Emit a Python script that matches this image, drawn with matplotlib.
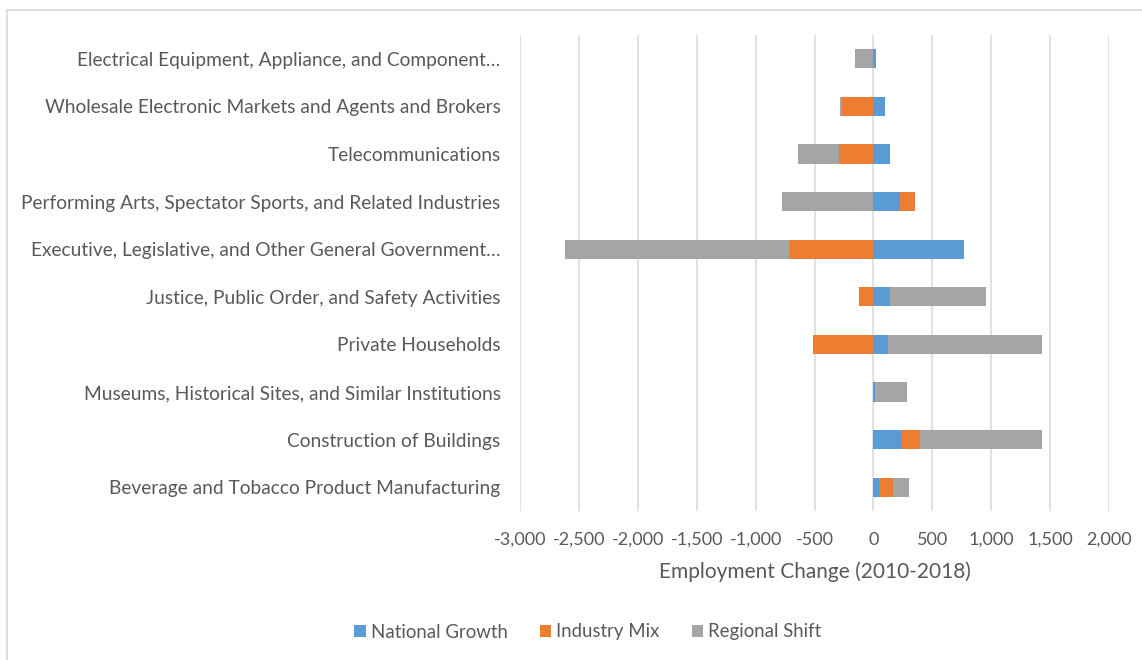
import matplotlib
matplotlib.use("Agg")
import matplotlib.pyplot as plt
from matplotlib.patches import Patch
from matplotlib.lines import Line2D
from matplotlib.ticker import FuncFormatter, MultipleLocator
import numpy as np

categories = [
    "Electrical Equipment, Appliance, and Component\u2026",
    "Wholesale Electronic Markets and Agents and Brokers",
    "Telecommunications",
    "Performing Arts, Spectator Sports, and Related Industries",
    "Executive, Legislative, and Other General Government\u2026",
    "Justice, Public Order, and Safety Activities",
    "Private Households",
    "Museums, Historical Sites, and Similar Institutions",
    "Construction of Buildings",
    "Beverage and Tobacco Product Manufacturing",
]
national_growth = [20, 100, 145, 230, 765, 145, 120, 15, 240, 45]
industry_mix = [0, -270, -295, 120, -720, -125, -515, 0, 155, 120]
regional_shift = [-155, -15, -345, -780, -1900, 815, 1310, 270, 1040, 140]
series_names = ["National Growth", "Industry Mix", "Regional Shift"]
colors = ["#5B9BD5", "#ED7D31", "#A5A5A5"]

TXT = "#595959"
plt.rcParams["font.family"] = ["Lato", "DejaVu Sans"]

W, H = 1142, 660
fig = plt.figure(figsize=(W / 100, H / 100), dpi=100)
ax = fig.add_axes([520 / W, 1 - 511 / H, (1109 - 520) / W, (511 - 35) / H])

y = np.arange(len(categories))
pos = np.zeros(len(categories))
neg = np.zeros(len(categories))
for vals, name, c in zip([national_growth, industry_mix, regional_shift], series_names, colors):
    v = np.array(vals, dtype=float)
    left = np.where(v >= 0, pos, neg)
    ax.barh(y, v, left=left, height=0.4, color=c, edgecolor="none", label=name, zorder=3)
    pos = pos + np.where(v >= 0, v, 0)
    neg = neg + np.where(v < 0, v, 0)

ax.set_ylim(len(categories) - 0.5, -0.5)
ax.set_xlim(-3000, 2000)
ax.xaxis.set_major_locator(MultipleLocator(500))
ax.xaxis.set_major_formatter(FuncFormatter(lambda v, p: f"{int(v):,}"))
ax.set_yticks(y)
ax.set_yticklabels(categories)
ax.grid(axis="x", color="#D9D9D9", linewidth=1.1, zorder=0)
for s in ax.spines.values():
    s.set_visible(False)
ax.tick_params(axis="both", length=0, colors=TXT)
ax.tick_params(axis="y", pad=14, labelsize=13.8)
ax.tick_params(axis="x", pad=15, labelsize=13)

ax.set_xlabel("Employment Change (2010-2018)", color=TXT, fontsize=15, va="center")
ax.xaxis.set_label_coords(0.5, -(572 - 511) / (511 - 35))

handles = [Patch(facecolor=c, edgecolor="none") for c in colors]
fig.legend(handles, series_names, loc="center", bbox_to_anchor=(588 / W, 1 - 632 / H),
           ncol=3, frameon=False, fontsize=13.4, handlelength=0.6, handleheight=0.6,
           handletextpad=0.3, columnspacing=1.7, labelcolor=TXT)

# chart area border (cropped on right and bottom)
fig.add_artist(Line2D([7 / W, 7 / W], [0, 1 - 10 / H], color="#D9D9D9", linewidth=1.2, transform=fig.transFigure))
fig.add_artist(Line2D([7 / W, 1], [1 - 10 / H, 1 - 10 / H], color="#D9D9D9", linewidth=1.2, transform=fig.transFigure))

fig.savefig("out.png", dpi=100, facecolor="white")
